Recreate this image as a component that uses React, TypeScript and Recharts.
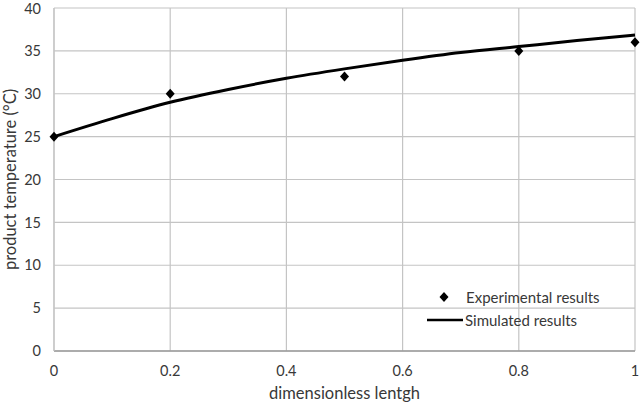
import {
  ComposedChart,
  Line,
  Scatter,
  XAxis,
  YAxis,
  CartesianGrid,
  Legend,
} from 'recharts';

// dimensionless length positions
const xTicks = [0, 0.2, 0.4, 0.6, 0.8, 1];
const yTicks = [0, 5, 10, 15, 20, 25, 30, 35, 40];

// experimental measurements
const expX = [0, 0.2, 0.5, 0.8, 1];
const expT = [25, 30, 32, 35, 36];

// simulated curve
const simX = [0, 0.1, 0.2, 0.3, 0.4, 0.5, 0.6, 0.7, 0.8, 0.9, 1];
const simT = [25, 27.1, 29.0, 30.5, 31.8, 32.9, 33.9, 34.8, 35.5, 36.2, 36.85];

const expData = expX.map((x, i) => ({ x, t: expT[i] }));
const simData = simX.map((x, i) => ({ x, t: simT[i] }));

const FONT = 'Lato, "Open Sans", sans-serif';
const TEXT = '#383838';

function Diamond(props: any) {
  const { cx, cy } = props;
  if (cx == null || cy == null) return null;
  const w = 4.5;
  const h = 5;
  return (
    <polygon
      points={`${cx},${cy - h} ${cx + w},${cy} ${cx},${cy + h} ${cx - w},${cy}`}
      fill="#000"
    />
  );
}

function LegendBox() {
  const row = { display: 'flex', alignItems: 'center', height: 22.5, whiteSpace: 'nowrap' } as const;
  return (
    <div style={{ fontFamily: FONT, fontSize: 15, color: TEXT }}>
      <div style={row}>
        <svg width={36} height={12}>
          <polygon points="17,1 21.5,6 17,11 12.5,6" fill="#000" />
        </svg>
        <span style={{ marginLeft: 3 }}>Experimental results</span>
      </div>
      <div style={row}>
        <svg width={36} height={12}>
          <line x1={0} y1={6} x2={36} y2={6} stroke="#000" strokeWidth={2.5} />
        </svg>
        <span style={{ marginLeft: 2 }}>Simulated results</span>
      </div>
    </div>
  );
}

export default function App() {
  return (
    <div style={{ position: 'absolute', left: 0, top: 0, width: 640, height: 402, background: '#fff' }}>
      <ComposedChart
        width={640}
        height={402}
        margin={{ top: 8, right: 5, left: 0, bottom: 0 }}
      >
        <CartesianGrid stroke="#c4c4c4" strokeWidth={1.2} />
        <XAxis
          type="number"
          dataKey="x"
          domain={[0, 1]}
          ticks={xTicks}
          allowDuplicatedCategory={false}
          height={51}
          tickSize={0}
          tickMargin={15}
          axisLine={{ stroke: '#9a9a9a', strokeWidth: 1.5 }}
          tick={{ fontSize: 14.5, fill: TEXT, fontFamily: FONT }}
          tickFormatter={(v: number) => String(v)}
          label={{
            value: 'dimensionless lentgh',
            position: 'insideBottom',
            offset: 3,
            fontSize: 16.5,
            fill: TEXT,
            fontFamily: FONT,
          }}
        />
        <YAxis
          type="number"
          domain={[0, 40]}
          ticks={yTicks}
          width={54}
          tickSize={0}
          tickMargin={13}
          axisLine={{ stroke: '#c4c4c4', strokeWidth: 1.2 }}
          tick={{ fontSize: 14.5, fill: TEXT, fontFamily: FONT }}
          label={{
            value: 'product temperature (°C)',
            angle: -90,
            position: 'insideLeft',
            offset: 10,
            style: { textAnchor: 'middle' },
            fontSize: 16.5,
            fill: TEXT,
            fontFamily: FONT,
          }}
        />
        <Line
          data={simData}
          dataKey="t"
          type="monotone"
          stroke="#000"
          strokeWidth={3}
          dot={false}
          activeDot={false}
          isAnimationActive={false}
          name="Simulated results"
        />
        <Scatter
          data={expData}
          dataKey="t"
          shape={<Diamond />}
          isAnimationActive={false}
          name="Experimental results"
        />
        <Legend
          layout="vertical"
          align="center"
          verticalAlign="middle"
          content={<LegendBox />}
          wrapperStyle={{ position: 'absolute', left: 427, top: 286, width: 200 }}
        />
      </ComposedChart>
    </div>
  );
}
